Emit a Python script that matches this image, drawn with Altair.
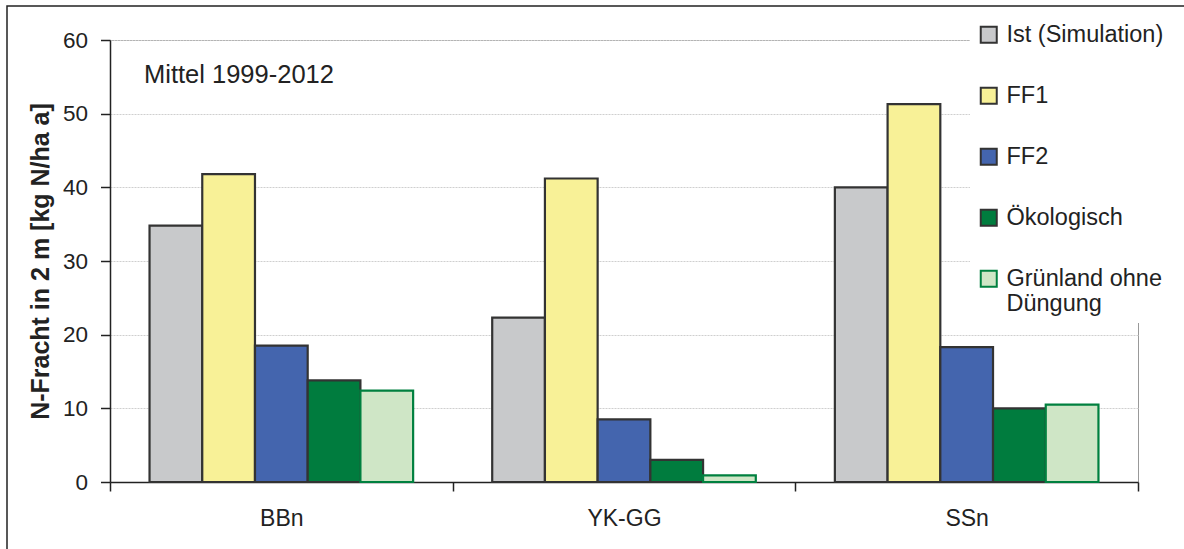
import altair as alt
import pandas as pd

categories = ["BBn", "YK-GG", "SSn"]
scenarios = ["Ist (Simulation)", "FF1", "FF2", "Ökologisch", "Grünland ohne Düngung"]
ist = [34.8, 22.3, 40.0]
ff1 = [41.8, 41.2, 51.3]
ff2 = [18.5, 8.5, 18.3]
oeko = [13.8, 3.0, 10.0]
gruen = [12.4, 0.9, 10.5]

fills = ["#c8c9cb", "#f8f197", "#4465ae", "#007c3e", "#cfe6c6"]
strokes = ["#333333", "#333333", "#333333", "#333333", "#00803f"]

series = [ist, ff1, ff2, oeko, gruen]
rows = []
for s, vals in zip(scenarios, series):
    for c, v in zip(categories, vals):
        rows.append({"Gebiet": c, "Szenario": s, "Wert": v})
df = pd.DataFrame(rows)

FONT = "Liberation Sans"
W, H = 1028, 442
LABEL_EXPR = "datum.label == 'Grünland ohne Düngung' ? ['Grünland ohne', 'Düngung'] : datum.label"

bars = alt.Chart(df).mark_bar(strokeWidth=2.2).encode(
    x=alt.X("Gebiet:N", sort=categories,
            scale=alt.Scale(paddingInner=0, paddingOuter=0),
            axis=alt.Axis(title=None, labelAngle=0, tickBand="extent",
                          labelFontSize=23, labelPadding=16, tickSize=9,
                          domainColor="#222222", tickColor="#222222",
                          domainWidth=1.5, tickWidth=1.5, labelColor="#222222")),
    xOffset=alt.XOffset("Szenario:N", sort=scenarios,
                        scale=alt.Scale(paddingInner=0, paddingOuter=0.75)),
    y=alt.Y("Wert:Q", scale=alt.Scale(domain=[0, 60], nice=False),
            axis=alt.Axis(title="N-Fracht in 2 m [kg N/ha a]", values=[0, 10, 20, 30, 40, 50, 60],
                          labelFontSize=22.5, labelPadding=13, tickSize=9.5,
                          domainColor="#222222", tickColor="#222222",
                          domainWidth=1.5, tickWidth=1.5, labelColor="#222222",
                          grid=True, gridColor="#cfcfcf", gridWidth=1, gridDash=[2, 1],
                          titleFontSize=25, titleFontWeight="bold", titleColor="#222222",
                          titleX=-70, titleY=221, titleAngle=-90, titleBaseline="middle",
                          titleAlign="center")),
    fill=alt.Fill("Szenario:N", sort=scenarios,
                  scale=alt.Scale(domain=scenarios, range=fills),
                  legend=alt.Legend(title=None, orient="none", legendX=860, legendY=-24,
                                    labelExpr=LABEL_EXPR)),
    stroke=alt.Stroke("Szenario:N", sort=scenarios,
                      scale=alt.Scale(domain=scenarios, range=strokes),
                      legend=alt.Legend(title=None, orient="none", legendX=860, legendY=-24,
                                        labelExpr=LABEL_EXPR)),
)

note = alt.Chart(alt.Data(values=[{"t": "Mittel 1999-2012"}])).mark_text(
    align="left", baseline="middle", fontSize=25.5, font=FONT, color="#222222"
).encode(x=alt.value(34), y=alt.value(35), text="t:N")

frame = alt.Chart(alt.Data(values=[{}])).mark_rect(
    fill=None, stroke="#222222", strokeWidth=1.5
).encode(x=alt.value(-103), x2=alt.value(1150), y=alt.value(-34), y2=alt.value(600))

chart = alt.layer(bars, note, frame).properties(
    width=W, height=H,
    padding={"left": 110, "top": 40, "right": 46, "bottom": 67},
    autosize=alt.AutoSizeParams(type="none"),
).configure(font=FONT).configure_view(
    stroke="#999999", strokeWidth=1
).configure_legend(
    fillColor="white", padding=7, symbolType="square", symbolSize=256,
    symbolStrokeWidth=2, labelFontSize=23.5, labelFont=FONT, labelColor="#222222",
    rowPadding=36, labelOffset=6, labelLimit=400
)

chart.save("out.html", embed_options={"renderer": "svg", "actions": False})
